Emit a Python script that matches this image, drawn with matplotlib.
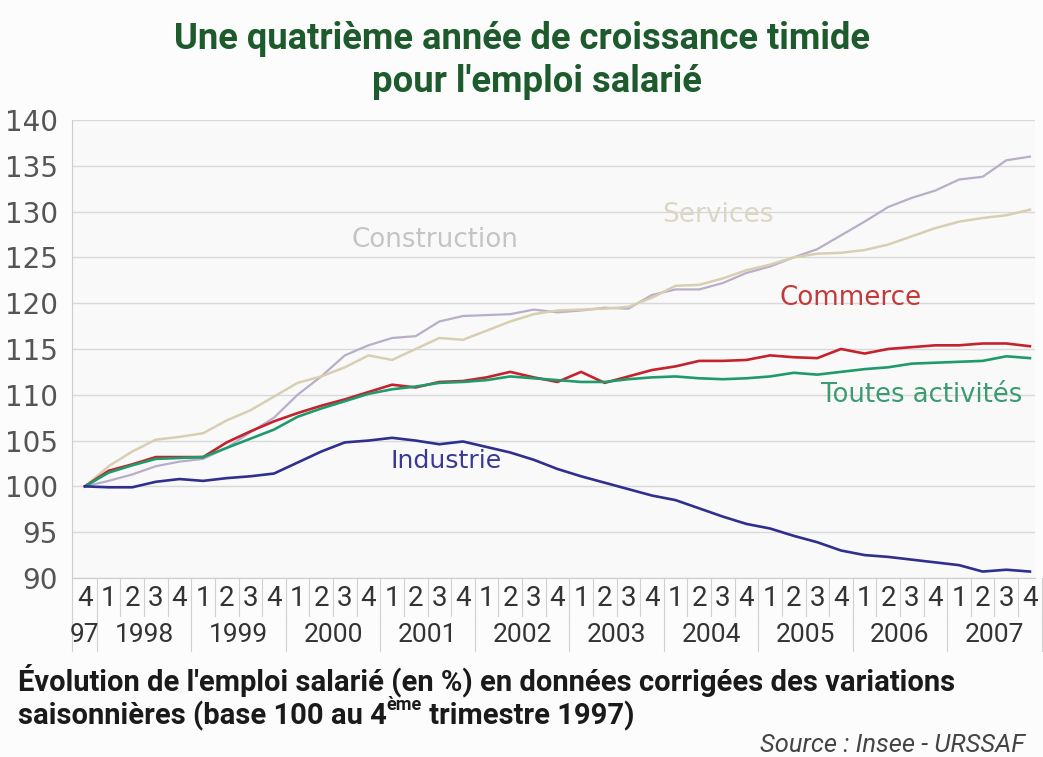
import matplotlib
matplotlib.use("Agg")
import matplotlib.pyplot as plt

# quarterly index, base 100 = Q4 1997 (41 quarters: Q4 1997 .. Q4 2007)
quarter_labels = ["4"] + ["1", "2", "3", "4"] * 10
year_labels = ["97", "1998", "1999", "2000", "2001", "2002",
               "2003", "2004", "2005", "2006", "2007"]

construction = [100.0, 100.6, 101.3, 102.2, 102.7, 103.0, 104.2, 105.9, 107.5, 110.0,
                112.0, 114.3, 115.4, 116.2, 116.4, 118.0, 118.6, 118.7, 118.8, 119.3,
                119.0, 119.2, 119.5, 119.4, 120.9, 121.5, 121.5, 122.2, 123.3, 124.0,
                125.0, 125.9, 127.4, 128.9, 130.5, 131.5, 132.3, 133.5, 133.8, 135.6,
                136.0]
services = [100.0, 102.2, 103.8, 105.1, 105.4, 105.8, 107.2, 108.3, 109.8, 111.3,
            112.0, 113.0, 114.3, 113.8, 115.0, 116.2, 116.0, 117.0, 118.0, 118.8,
            119.2, 119.3, 119.4, 119.6, 120.6, 121.9, 122.0, 122.7, 123.6, 124.2,
            125.0, 125.4, 125.5, 125.8, 126.4, 127.3, 128.2, 128.9, 129.3, 129.6,
            130.2]
commerce = [100.0, 101.7, 102.4, 103.2, 103.2, 103.2, 104.8, 106.0, 107.1, 108.0,
            108.8, 109.5, 110.3, 111.1, 110.8, 111.4, 111.5, 111.9, 112.5, 111.9,
            111.4, 112.5, 111.3, 112.0, 112.7, 113.1, 113.7, 113.7, 113.8, 114.3,
            114.1, 114.0, 115.0, 114.5, 115.0, 115.2, 115.4, 115.4, 115.6, 115.6,
            115.3]
toutes = [100.0, 101.5, 102.3, 103.0, 103.1, 103.2, 104.2, 105.2, 106.2, 107.6,
          108.5, 109.3, 110.1, 110.6, 110.9, 111.3, 111.4, 111.6, 112.0, 111.8,
          111.6, 111.4, 111.4, 111.7, 111.9, 112.0, 111.8, 111.7, 111.8, 112.0,
          112.4, 112.2, 112.5, 112.8, 113.0, 113.4, 113.5, 113.6, 113.7, 114.2,
          114.0]
industrie = [100.0, 99.9, 99.9, 100.5, 100.8, 100.6, 100.9, 101.1, 101.4, 102.6,
             103.8, 104.8, 105.0, 105.3, 105.0, 104.6, 104.9, 104.3, 103.7, 102.9,
             101.9, 101.1, 100.4, 99.7, 99.0, 98.5, 97.6, 96.7, 95.9, 95.4,
             94.6, 93.9, 93.0, 92.5, 92.3, 92.0, 91.7, 91.4, 90.7, 90.9,
             90.7]

NARROW = ["Roboto", "DejaVu Sans"]
plt.rcParams["font.family"] = ["DejaVu Sans"]

fig = plt.figure(figsize=(10.43, 7.57), dpi=100, facecolor="#fcfcfc")
ax = fig.add_axes([0.069, 0.2365, 0.923, 0.605])
ax.set_facecolor("#f9f9f9")

x = list(range(len(quarter_labels)))
ax.plot(x, construction, color="#b8aec9", lw=1.6, zorder=3)
ax.plot(x, services, color="#d8cfb2", lw=1.8, zorder=3)
ax.plot(x, commerce, color="#c4222c", lw=1.9, zorder=4)
ax.plot(x, toutes, color="#1f9b6b", lw=1.9, zorder=5)
ax.plot(x, industrie, color="#2f2f8e", lw=1.9, zorder=5)

ax.set_xlim(-0.55, 40.2)
ax.set_ylim(90, 140)
ax.set_yticks(range(90, 141, 5))
ax.tick_params(axis="y", length=0, labelsize=20, labelcolor="#555555", pad=10)
ax.set_xticks([])
ax.grid(axis="y", color="#d9d9d9", lw=1.0)
ax.set_axisbelow(True)
for s in ["top", "right"]:
    ax.spines[s].set_visible(False)
ax.spines["left"].set_color("#cccccc")
ax.spines["bottom"].set_color("#cccccc")

# series labels
ax.text(14.8, 126.9, "Construction", color="#c4c4c4", fontsize=18.8, ha="center", va="center")
ax.text(26.8, 129.6, "Services", color="#dcd6c4", fontsize=19, ha="center", va="center")
ax.text(32.4, 120.6, "Commerce", color="#c43a3a", fontsize=18.8, ha="center", va="center")
ax.text(35.4, 110.0, "Toutes activités", color="#3b9c72", fontsize=18.6, ha="center", va="center")
ax.text(15.3, 102.8, "Industrie", color="#3a3a96", fontsize=18.2, ha="center", va="center")

# quarter / year table under the axis
trans = ax.get_xaxis_transform()
for i, q in enumerate(quarter_labels):
    ax.text(i, -0.044, q, transform=trans, ha="center", va="center",
            fontsize=20, color="#333333", family=NARROW, clip_on=False)
    ax.plot([i + 0.5, i + 0.5], [0, -0.082], transform=trans, color="#d0d0d0",
            lw=0.8, clip_on=False)
ax.plot([-0.55, -0.55], [0, -0.16], transform=trans, color="#d0d0d0", lw=0.8, clip_on=False)
for k, yl in enumerate(year_labels):
    xc = 0 if k == 0 else 4 * k - 1.5
    ax.text(xc, -0.125, yl, transform=trans, ha="center", va="center",
            fontsize=19, color="#333333", family=NARROW, clip_on=False)
    ax.plot([4 * k + 0.5, 4 * k + 0.5], [-0.082, -0.16], transform=trans,
            color="#d0d0d0", lw=0.8, clip_on=False)

# title
fig.text(0.5, 0.949, "Une quatrième année de croissance timide", ha="center", va="center",
         fontsize=26.2, fontweight="bold", color="#1d5a2c", family=NARROW)
fig.text(0.515, 0.892, "pour l'emploi salarié", ha="center", va="center",
         fontsize=26.2, fontweight="bold", color="#1d5a2c", family=NARROW)

# caption
fs_cap = 21
fig.text(0.017, 0.101, "Évolution de l'emploi salarié (en %) en données corrigées des variations",
         ha="left", va="center", fontsize=fs_cap, fontweight="bold", color="#1a1a1a", family=NARROW)
renderer = fig.canvas.get_renderer()
t1 = fig.text(0.017, 0.054, "saisonnières (base 100 au 4", ha="left", va="center",
              fontsize=fs_cap, fontweight="bold", color="#1a1a1a", family=NARROW)
bb = t1.get_window_extent(renderer).transformed(fig.transFigure.inverted())
t2 = fig.text(bb.x1, 0.069, "ème", ha="left", va="center",
              fontsize=13, fontweight="bold", color="#1a1a1a", family=NARROW)
bb2 = t2.get_window_extent(renderer).transformed(fig.transFigure.inverted())
fig.text(bb2.x1, 0.054, " trimestre 1997)", ha="left", va="center",
         fontsize=fs_cap, fontweight="bold", color="#1a1a1a", family=NARROW)

fig.text(0.983, 0.016, "Source : Insee - URSSAF", ha="right", va="center",
         fontsize=18.4, style="italic", color="#444444", family=NARROW)

fig.savefig("out.png", dpi=100, facecolor=fig.get_facecolor())
